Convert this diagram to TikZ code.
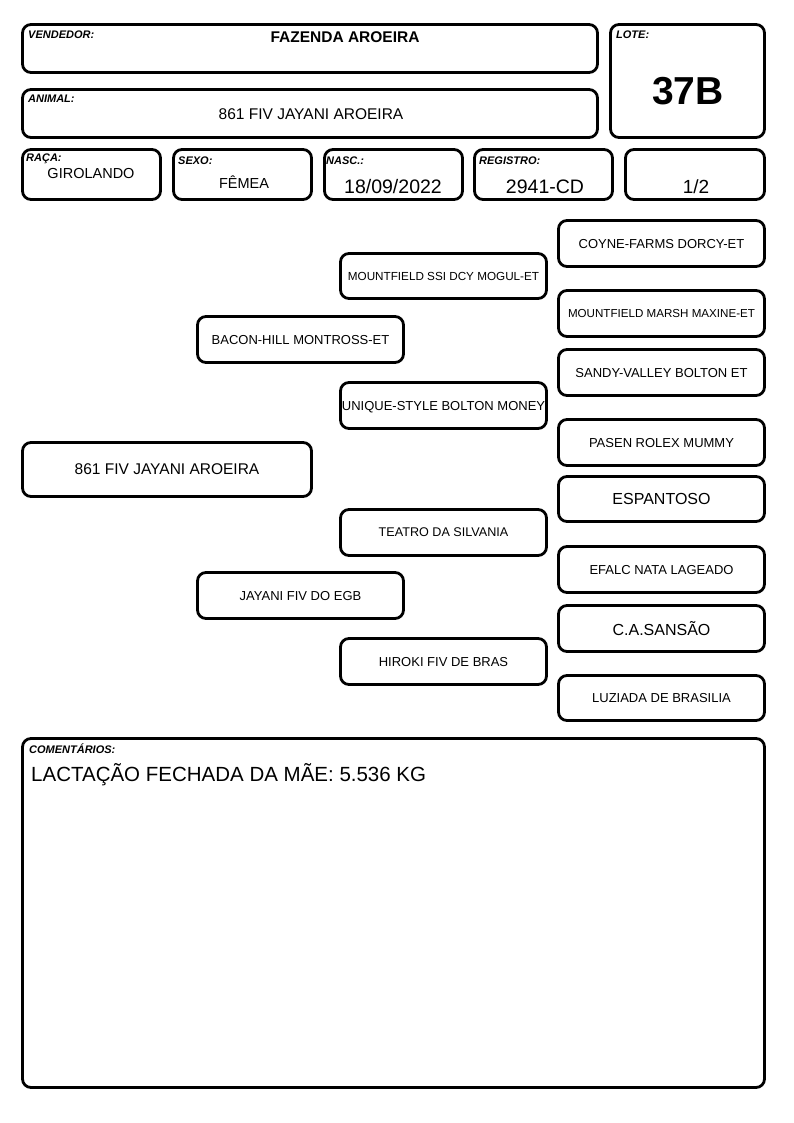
\documentclass[tikz,border=0pt]{standalone}
\usepackage{fontspec}
\setmainfont{Liberation Sans}
\newcommand{\fsz}[1]{\fontsize{#1}{#1}\selectfont}
\tikzset{
  box/.style={draw, line width=2.8pt, rounded corners=8.5pt, inner sep=0pt, text depth=0pt, align=center},
  lbl/.style={anchor=base west, inner sep=0pt, font=\fsz{11}\bfseries\itshape},
  val/.style={anchor=base, inner sep=0pt},
  g3/.style={box, minimum width=206pt, minimum height=46pt, font=\fsz{13}},
  g2/.style={box, minimum width=206pt, minimum height=46pt, font=\fsz{13}},
  g1/.style={box, minimum width=206pt, minimum height=46pt, font=\fsz{13}},
  hd/.style={box, minimum width=138pt, minimum height=50pt},
}
\begin{document}
\begin{tikzpicture}[x=1pt,y=-1pt]
\useasboundingbox (0,0) rectangle (794,1123);
% header
\node[box, minimum width=575pt, minimum height=48pt] (vend) at (310,48.5) {};
\node[lbl] (vendl) at (28,39) {VENDEDOR:};
\node[val, font=\fsz{15.5}\bfseries] (vendt) at (345,43) {FAZENDA AROEIRA};
\node[box, minimum width=154pt, minimum height=113pt] (lote) at (687.5,81) {};
\node[lbl] (lotel) at (616,39) {LOTE:};
\node[val, font=\fsz{39}\bfseries] (lotet) at (688,105) {37B};
\node[box, minimum width=575pt, minimum height=48pt] (anim) at (310,113.5) {};
\node[lbl] (animl) at (28,103) {ANIMAL:};
\node[val, font=\fsz{15.5}] (animt) at (311,120) {861 FIV JAYANI AROEIRA};
% row
\node[hd] (raca) at (91.5,174.5) {};
\node[lbl] (racal) at (26,162) {RAÇA:};
\node[val, font=\fsz{14.5}] (racat) at (91,179) {GIROLANDO};
\node[hd] (sexo) at (242.5,174.5) {};
\node[lbl] (sexol) at (178,165) {SEXO:};
\node[val, font=\fsz{14.5}] (sexot) at (244,189) {FÊMEA};
\node[hd] (nasc) at (393.5,174.5) {};
\node[lbl] (nascl) at (326,165) {NASC.:};
\node[val, font=\fsz{19.5}] (nasct) at (393,194) {18/09/2022};
\node[hd] (reg) at (543.5,174.5) {};
\node[lbl] (regl) at (479,165) {REGISTRO:};
\node[val, font=\fsz{19.5}] (regt) at (545,194) {2941-CD};
\node[hd, minimum width=139pt] (frac) at (695,174.5) {};
\node[val, font=\fsz{19}] (fract) at (696,194) {1/2};
% pedigree
\node[box, minimum width=289pt, minimum height=54pt, font=\fsz{15.5}] (main) at (167,469.5) {861 FIV JAYANI AROEIRA};
\node[g1] (sire) at (300.5,339.5) {BACON-HILL MONTROSS-ET};
\node[g1] (dam) at (300.5,595.5) {JAYANI FIV DO EGB};
\node[g2, minimum height=45pt, font=\fsz{11.7}] (ss) at (443.5,276) {MOUNTFIELD SSI DCY MOGUL-ET};
\node[g2] (sd) at (443.5,405.5) {UNIQUE-STYLE BOLTON MONEY};
\node[g2, font=\fsz{12.6}] (ds) at (443.5,532.5) {TEATRO DA SILVANIA};
\node[g2] (dd) at (443.5,661.5) {HIROKI FIV DE BRAS};
\node[g3] (sss) at (661.5,243.5) {COYNE-FARMS DORCY-ET};
\node[g3, font=\fsz{11.6}] (ssd) at (661.5,313.5) {MOUNTFIELD MARSH MAXINE-ET};
\node[g3] (sds) at (661.5,372.5) {SANDY-VALLEY BOLTON ET};
\node[g3] (sdd) at (661.5,442.5) {PASEN ROLEX MUMMY};
\node[g3, minimum height=45pt, font=\fsz{16}] (dss) at (661.5,499) {ESPANTOSO};
\node[g3] (dsd) at (661.5,569.5) {EFALC NATA LAGEADO};
\node[g3, font=\fsz{16}] (dds) at (661.5,628.5) {C.A.SANSÃO};
\node[g3, minimum height=45pt] (ddd) at (661.5,698) {LUZIADA DE BRASILIA};
% comments
\node[box, minimum width=742pt, minimum height=349pt] (com) at (393.5,913) {};
\node[lbl] (coml) at (29,753) {COMENTÁRIOS:};
\node[anchor=base west, inner sep=0pt, font=\fsz{20.5}] (comt) at (31,781) {LACTAÇÃO FECHADA DA MÃE: 5.536 KG};
\end{tikzpicture}
\end{document}
